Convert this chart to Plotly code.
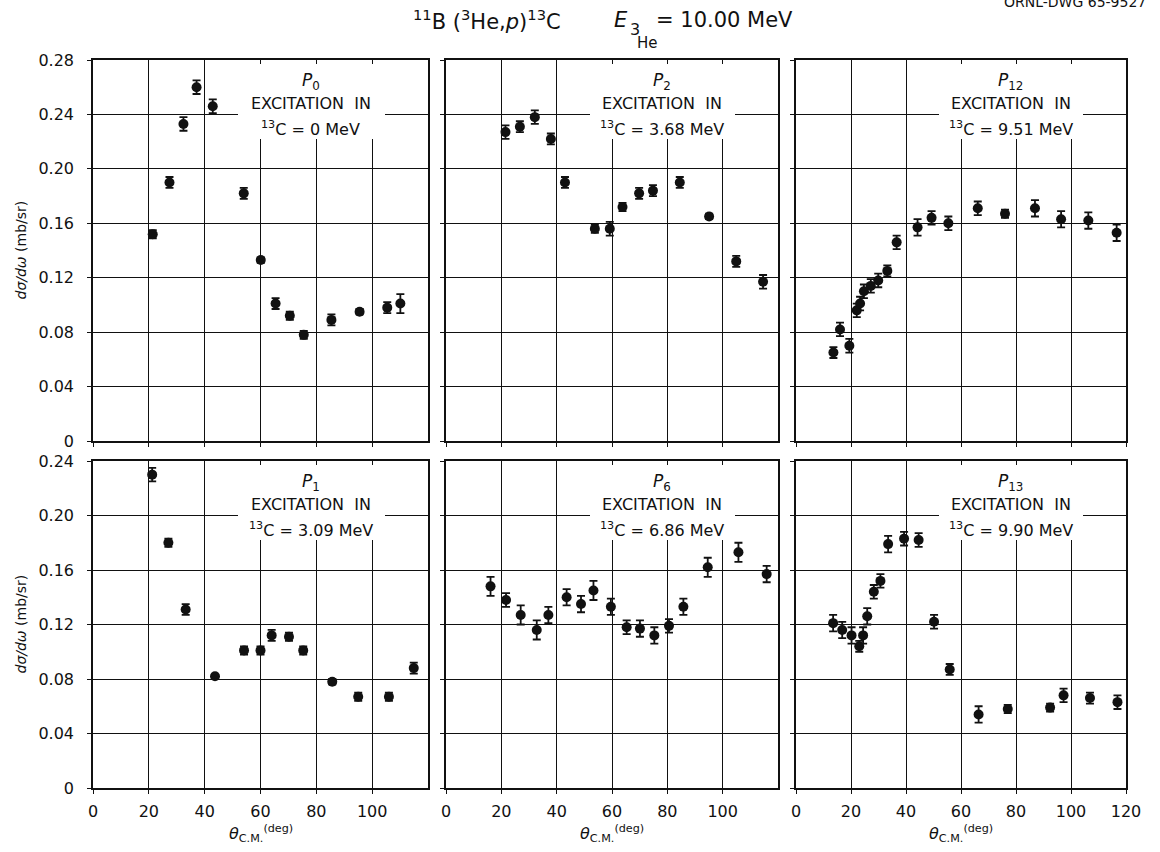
import plotly.graph_objects as go

# ---------------- data ----------------
theta_p0 = [21.4, 27.4, 32.4, 37.1, 42.9, 54.0, 60.1, 65.4, 70.5, 75.5, 85.4, 95.5, 105.4, 110.1]
sigma_p0 = [0.152, 0.190, 0.233, 0.260, 0.246, 0.182, 0.133, 0.101, 0.092, 0.078, 0.089, 0.095, 0.098, 0.101]
err_p0 = [0.003, 0.004, 0.005, 0.005, 0.005, 0.004, 0.002, 0.004, 0.003, 0.003, 0.004, 0.002, 0.004, 0.007]

theta_p2 = [21.5, 26.7, 32.1, 37.9, 43.0, 53.8, 59.2, 63.8, 69.8, 74.8, 84.5, 95.1, 104.9, 114.6]
sigma_p2 = [0.227, 0.231, 0.238, 0.222, 0.190, 0.156, 0.156, 0.172, 0.182, 0.184, 0.190, 0.165, 0.132, 0.117]
err_p2 = [0.005, 0.004, 0.005, 0.004, 0.004, 0.003, 0.005, 0.003, 0.004, 0.004, 0.004, 0.002, 0.004, 0.005]

theta_p12 = [13.6, 16.0, 19.4, 22.1, 23.3, 24.7, 27.2, 29.9, 33.2, 36.6, 44.2, 49.3, 55.4, 66.1, 76.0, 86.9, 96.4, 106.3, 116.6]
sigma_p12 = [0.065, 0.082, 0.070, 0.096, 0.101, 0.110, 0.114, 0.118, 0.125, 0.146, 0.157, 0.164, 0.160, 0.171, 0.167, 0.171, 0.163, 0.162, 0.153]
err_p12 = [0.004, 0.005, 0.005, 0.005, 0.005, 0.005, 0.005, 0.005, 0.004, 0.005, 0.006, 0.005, 0.005, 0.005, 0.003, 0.006, 0.006, 0.006, 0.006]

theta_p1 = [21.2, 27.0, 33.2, 43.7, 54.1, 60.0, 64.0, 70.2, 75.3, 85.7, 95.0, 106.0, 114.9]
sigma_p1 = [0.230, 0.180, 0.131, 0.082, 0.101, 0.101, 0.112, 0.111, 0.101, 0.078, 0.067, 0.067, 0.088]
err_p1 = [0.005, 0.003, 0.004, 0.001, 0.003, 0.003, 0.004, 0.003, 0.003, 0.002, 0.003, 0.003, 0.004]

theta_p6 = [16.1, 21.7, 27.0, 32.8, 37.0, 43.6, 48.8, 53.3, 59.6, 65.3, 70.1, 75.3, 80.6, 85.8, 94.6, 105.7, 115.9]
sigma_p6 = [0.148, 0.138, 0.127, 0.116, 0.127, 0.140, 0.135, 0.145, 0.133, 0.118, 0.117, 0.112, 0.119, 0.133, 0.162, 0.173, 0.157]
err_p6 = [0.007, 0.005, 0.007, 0.007, 0.006, 0.006, 0.006, 0.007, 0.006, 0.005, 0.006, 0.006, 0.005, 0.006, 0.007, 0.007, 0.006]

theta_p13 = [13.5, 16.8, 20.2, 23.0, 24.4, 25.9, 28.3, 30.7, 33.5, 39.3, 44.6, 50.2, 55.9, 66.4, 77.0, 92.4, 97.3, 106.9, 116.9]
sigma_p13 = [0.121, 0.116, 0.112, 0.104, 0.112, 0.126, 0.144, 0.152, 0.179, 0.183, 0.182, 0.122, 0.087, 0.054, 0.058, 0.059, 0.068, 0.066, 0.063]
err_p13 = [0.006, 0.006, 0.006, 0.004, 0.006, 0.006, 0.005, 0.005, 0.006, 0.005, 0.005, 0.005, 0.004, 0.006, 0.003, 0.003, 0.005, 0.004, 0.005]

panel_groups = ["0", "2", "12", "1", "6", "13"]
excitation_mev = ["0", "3.68", "9.51", "3.09", "6.86", "9.90"]

x_ticks_inner = [0, 20, 40, 60, 80, 100]
x_ticks_last = [0, 20, 40, 60, 80, 100, 120]
y_ticks_top = [0, 0.04, 0.08, 0.12, 0.16, 0.20, 0.24, 0.28]
y_text_top = ["0", "0.04", "0.08", "0.12", "0.16", "0.20", "0.24", "0.28"]
y_ticks_bottom = [0, 0.04, 0.08, 0.12, 0.16, 0.20, 0.24]
y_text_bottom = ["0", "0.04", "0.08", "0.12", "0.16", "0.20", "0.24"]

series = [
    (theta_p0, sigma_p0, err_p0),
    (theta_p2, sigma_p2, err_p2),
    (theta_p12, sigma_p12, err_p12),
    (theta_p1, sigma_p1, err_p1),
    (theta_p6, sigma_p6, err_p6),
    (theta_p13, sigma_p13, err_p13),
]

# ---------------- layout geometry (pixels) ----------------
W, H = 1160, 852
cols_px = [(93, 428), (446, 778), (796, 1126)]
rows_px = [(60, 441), (461, 788)]  # top, bottom (pixel y from top)

FONT = "DejaVu Sans"
INK = "#111111"

BOX_X0, BOX_X1 = 52.0, 104.5     # label box extent in degrees
BOX_TOP, BOX_BOT = 4, 79         # label box extent in px below panel top


def px_x(p):
    return p / W


def px_y(p):
    return 1 - p / H


fig = go.Figure()
layout = dict(
    width=W, height=H,
    margin=dict(l=0, r=0, t=0, b=0),
    paper_bgcolor="white", plot_bgcolor="white",
    showlegend=False,
    font=dict(family=FONT, color=INK, size=15),
)
box_annotations = []
text_annotations = []

for i, (xs, ys, es) in enumerate(series):
    n = i + 1
    r, c = divmod(i, 3)
    x0p, x1p = cols_px[c]
    y0p, y1p = rows_px[r]
    xa = "xaxis" if n == 1 else f"xaxis{n}"
    ya = "yaxis" if n == 1 else f"yaxis{n}"
    xref = "x" if n == 1 else f"x{n}"
    yref = "y" if n == 1 else f"y{n}"

    fig.add_trace(go.Scatter(
        x=xs, y=ys, mode="markers",
        xaxis=xref, yaxis=yref,
        marker=dict(color=INK, size=10, symbol="circle"),
        error_y=dict(type="data", array=es, visible=True,
                     color=INK, thickness=1.8, width=4),
        hoverinfo="x+y",
    ))

    top_row = r == 0
    ymax = 0.28 if top_row else 0.24
    xticks = x_ticks_last if c == 2 else x_ticks_inner
    layout[xa] = dict(
        domain=[px_x(x0p), px_x(x1p)],
        range=[0, 120], anchor=yref,
        tickvals=xticks, ticktext=[str(v) for v in xticks],
        showticklabels=not top_row,
        ticks="outside", ticklen=4, tickcolor=INK, tickwidth=1,
        ticklabelstandoff=4,
        showgrid=True, gridcolor=INK, gridwidth=1,
        zeroline=False,
        showline=True, mirror=True, linecolor=INK, linewidth=1.6,
        tickfont=dict(family=FONT, size=16, color=INK),
        automargin=False, fixedrange=True,
    )
    layout[ya] = dict(
        domain=[px_y(y1p), px_y(y0p)],
        range=[0, ymax], anchor=xref,
        tickvals=y_ticks_top if top_row else y_ticks_bottom,
        ticktext=y_text_top if top_row else y_text_bottom,
        showticklabels=(c == 0),
        ticks="outside", ticklen=4, tickcolor=INK, tickwidth=1,
        ticklabelstandoff=10,
        showgrid=True, gridcolor=INK, gridwidth=1,
        zeroline=False,
        showline=True, mirror=True, linecolor=INK, linewidth=1.6,
        tickfont=dict(family=FONT, size=16, color=INK),
        automargin=False, fixedrange=True,
    )

    # white label box hiding the grid behind the panel label
    pw = x1p - x0p
    box_w = (BOX_X1 - BOX_X0) / 120 * pw
    dom = f"{yref} domain"
    box_annotations.append(dict(
        xref=xref, yref=dom, x=(BOX_X0 + BOX_X1) / 2, y=1,
        yshift=-(BOX_TOP + BOX_BOT) / 2, yanchor="middle", xanchor="center",
        text=" ", showarrow=False, width=box_w, height=BOX_BOT - BOX_TOP,
        bgcolor="white", borderpad=0, borderwidth=0,
    ))
    text_annotations.append(dict(
        xref=xref, yref=dom, x=78, y=1, yshift=-21, yanchor="middle",
        text=f"<i>P</i><sub>{panel_groups[i]}</sub>", showarrow=False,
        font=dict(family=FONT, size=17, color=INK)))
    text_annotations.append(dict(
        xref=xref, yref=dom, x=78, y=1, yshift=-43, yanchor="middle",
        text="EXCITATION\u00a0\u00a0IN", showarrow=False,
        font=dict(family=FONT, size=16, color=INK)))
    text_annotations.append(dict(
        xref=xref, yref=dom, x=78, y=1, yshift=-68, yanchor="middle",
        text=f"<sup>13</sup>C = {excitation_mev[i]} MeV", showarrow=False,
        font=dict(family=FONT, size=16, color=INK)))

annotations = box_annotations + text_annotations

# y-axis titles
for (y0p, y1p) in rows_px:
    annotations.append(dict(
        xref="paper", yref="paper", x=px_x(20), y=px_y((y0p + y1p) / 2),
        text="<i>dσ/dω</i> (mb/sr)", textangle=-90, showarrow=False,
        xanchor="center", yanchor="middle",
        font=dict(family=FONT, size=14, color=INK)))

# x-axis titles
for (x0p, x1p) in cols_px:
    annotations.append(dict(
        xref="paper", yref="paper", x=px_x((x0p + x1p) / 2), y=px_y(833),
        text="<i>θ</i><sub>C.M.</sub><sup>(deg)</sup>", showarrow=False,
        xanchor="center", yanchor="middle",
        font=dict(family=FONT, size=16, color=INK)))

# main title pieces
annotations += [
    dict(xref="paper", yref="paper", x=px_x(487), y=px_y(20),
         text="<sup>11</sup>B (<sup>3</sup>He,<i>p</i>)<sup>13</sup>C", showarrow=False,
         xanchor="center", yanchor="middle", font=dict(family=FONT, size=21, color=INK)),
    dict(xref="paper", yref="paper", x=px_x(612), y=px_y(20),
         text="<i>E</i>", showarrow=False,
         xanchor="left", yanchor="middle", font=dict(family=FONT, size=21, color=INK)),
    dict(xref="paper", yref="paper", x=px_x(628), y=px_y(30),
         text="3", showarrow=False,
         xanchor="left", yanchor="middle", font=dict(family=FONT, size=16, color=INK)),
    dict(xref="paper", yref="paper", x=px_x(635), y=px_y(43),
         text="He", showarrow=False,
         xanchor="left", yanchor="middle", font=dict(family=FONT, size=15, color=INK)),
    dict(xref="paper", yref="paper", x=px_x(654), y=px_y(20),
         text="= 10.00 MeV", showarrow=False,
         xanchor="left", yanchor="middle", font=dict(family=FONT, size=21, color=INK)),
    dict(xref="paper", yref="paper", x=px_x(1148), y=px_y(2),
         text="ORNL-DWG 65-9527", showarrow=False,
         xanchor="right", yanchor="middle", font=dict(family=FONT, size=14, color=INK)),
]

layout["annotations"] = annotations
fig.update_layout(**layout)

# remove the browser's default 8px body margin so the figure sits at (0, 0)
fig.write_html("out.html", config={"displayModeBar": False},
               post_script="document.body.style.margin='0px';")
